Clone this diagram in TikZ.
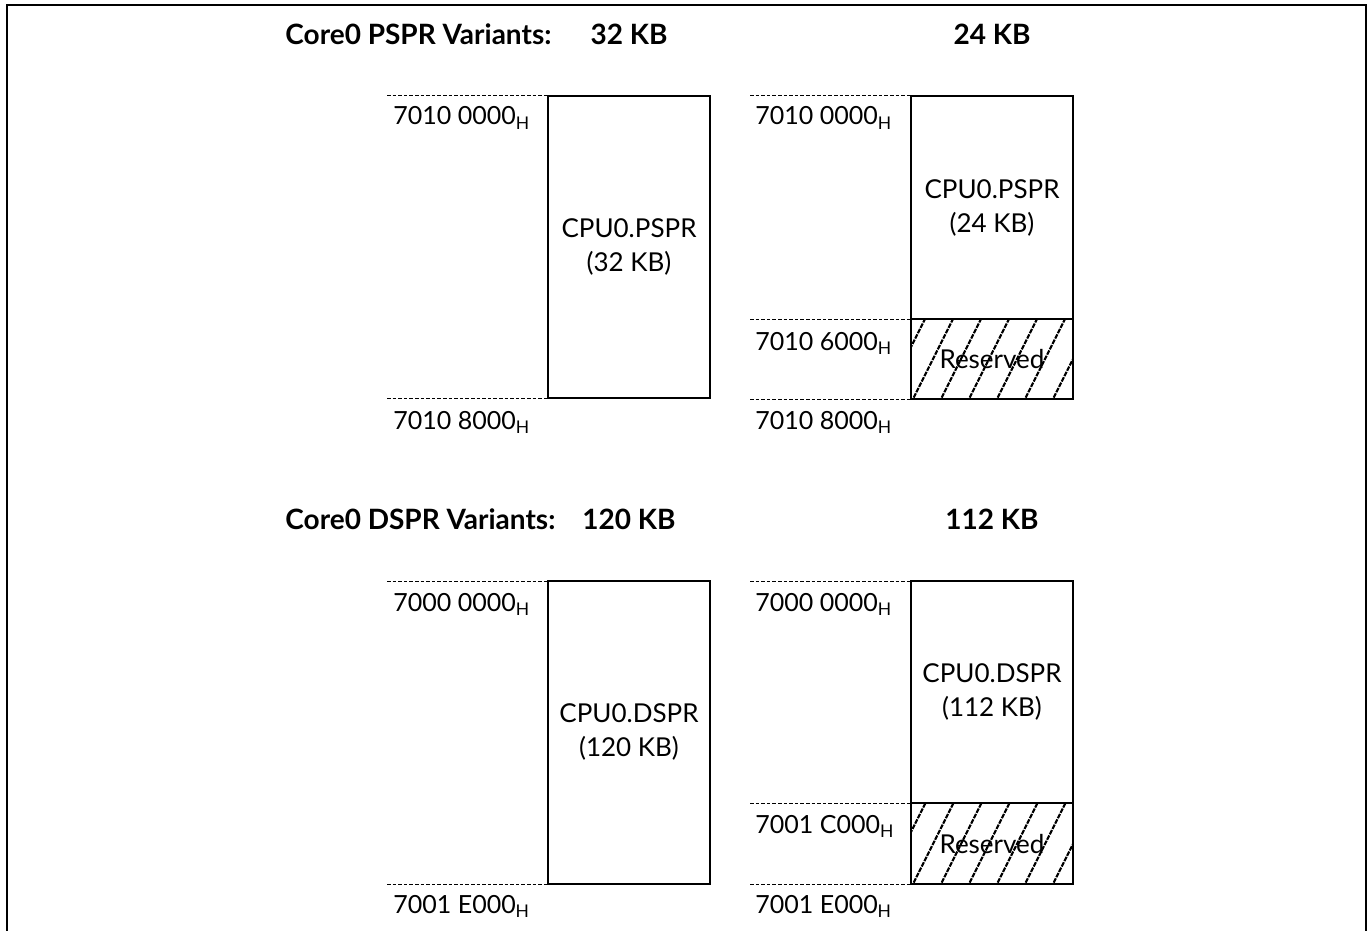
\documentclass[tikz,border=0pt]{standalone}
\usepackage{fontspec}
\setmainfont{Lato}
\begin{document}
\begin{tikzpicture}[x=0.5pt,y=-0.5pt,
  frame/.style={line width=1.3pt},
  membox/.style={line width=1.2pt},
  guide/.style={line width=0.5pt, dash pattern=on 1.8pt off 1pt},
  hatchline/.style={line width=1.05pt, dash pattern=on 2.4pt off 0.6pt},
  addr/.style={anchor=base west, inner sep=0pt, font=\fontsize{12.5}{17}\selectfont},
  ttl/.style={anchor=base, inner sep=0pt, font=\fontsize{14}{17}\selectfont\bfseries},
  ttlw/.style={anchor=base west, inner sep=0pt, font=\fontsize{14}{17}\selectfont\bfseries},
  boxtext/.style={align=center, inner sep=0pt, font=\fontsize{13}{17}\selectfont},
]
\useasboundingbox (0,0) rectangle (1370,931);
\draw[frame] (7,931) -- (7,5) -- (1366,5) -- (1366,931);

% ---------- PSPR ----------
\node[ttlw] (t1) at (285,45) {Core0 PSPR Variants:};
\node[ttl] (k32) at (629,45) {32 KB};
\node[ttl] (k24) at (992,45) {24 KB};

% column A
\coordinate (a1tl) at (548,96);
\coordinate (a1br) at (710,398);
\coordinate (a1g1) at (387,96);
\coordinate (a1bl) at (548,398);
\coordinate (a1g2) at (387,398);
\draw[membox] (a1tl) rectangle (a1br);
\draw[guide] (a1g1) -- (a1tl);
\draw[guide] (a1g2) -- (a1bl);
\node[boxtext] (a1txt) at (629,247) {CPU0.PSPR\\(32 KB)};
\node[addr] (a1l1) at (393,125) {7010 0000\textsubscript{H}};
\node[addr] (a1l2) at (393,429) {7010 8000\textsubscript{H}};

% column B
\coordinate (b1tl) at (911,96);
\coordinate (b1br) at (1073,399);
\coordinate (b1ml) at (911,319);
\coordinate (b1mr) at (1073,319);
\coordinate (b1bl) at (911,399);
\coordinate (b1g1) at (750,96);
\coordinate (b1g2) at (750,319);
\coordinate (b1g3) at (750,399);
\begin{scope}
  \clip (b1ml) rectangle (b1br);
  \foreach \i in {-3,...,7} \draw[hatchline] (911+\i*28,403) -- ++(44,-88);
\end{scope}
\draw[membox] (b1tl) rectangle (b1br);
\draw[membox] (b1ml) -- (b1mr);
\draw[guide] (b1g1) -- (b1tl);
\draw[guide] (b1g2) -- (b1ml);
\draw[guide] (b1g3) -- (b1bl);
\node[boxtext] (b1txt) at (992,208) {CPU0.PSPR\\(24 KB)};
\node[boxtext] (b1res) at (992,359) {Reserved};
\node[addr] (b1l1) at (755,125) {7010 0000\textsubscript{H}};
\node[addr] (b1l2) at (755,350) {7010 6000\textsubscript{H}};
\node[addr] (b1l3) at (755,429) {7010 8000\textsubscript{H}};

% ---------- DSPR ----------
\node[ttlw] (t2) at (285,529) {Core0 DSPR Variants:};
\node[ttl] (k120) at (629,529) {120 KB};
\node[ttl] (k112) at (992,529) {112 KB};

% column A
\coordinate (a2tl) at (548,581);
\coordinate (a2br) at (710,884);
\coordinate (a2g1) at (387,581);
\coordinate (a2bl) at (548,884);
\coordinate (a2g2) at (387,884);
\draw[membox] (a2tl) rectangle (a2br);
\draw[guide] (a2g1) -- (a2tl);
\draw[guide] (a2g2) -- (a2bl);
\node[boxtext] (a2txt) at (629,732) {CPU0.DSPR\\(120 KB)};
\node[addr] (a2l1) at (393,611) {7000 0000\textsubscript{H}};
\node[addr] (a2l2) at (393,913) {7001 E000\textsubscript{H}};

% column B
\coordinate (b2tl) at (911,581);
\coordinate (b2br) at (1073,884);
\coordinate (b2ml) at (911,803);
\coordinate (b2mr) at (1073,803);
\coordinate (b2bl) at (911,884);
\coordinate (b2g1) at (750,581);
\coordinate (b2g2) at (750,803);
\coordinate (b2g3) at (750,884);
\begin{scope}
  \clip (b2ml) rectangle (b2br);
  \foreach \i in {-3,...,7} \draw[hatchline] (911+\i*28,888) -- ++(44,-88);
\end{scope}
\draw[membox] (b2tl) rectangle (b2br);
\draw[membox] (b2ml) -- (b2mr);
\draw[guide] (b2g1) -- (b2tl);
\draw[guide] (b2g2) -- (b2ml);
\draw[guide] (b2g3) -- (b2bl);
\node[boxtext] (b2txt) at (992,692) {CPU0.DSPR\\(112 KB)};
\node[boxtext] (b2res) at (992,844) {Reserved};
\node[addr] (b2l1) at (755,611) {7000 0000\textsubscript{H}};
\node[addr] (b2l2) at (755,833) {7001 C000\textsubscript{H}};
\node[addr] (b2l3) at (755,913) {7001 E000\textsubscript{H}};
\end{tikzpicture}
\end{document}
